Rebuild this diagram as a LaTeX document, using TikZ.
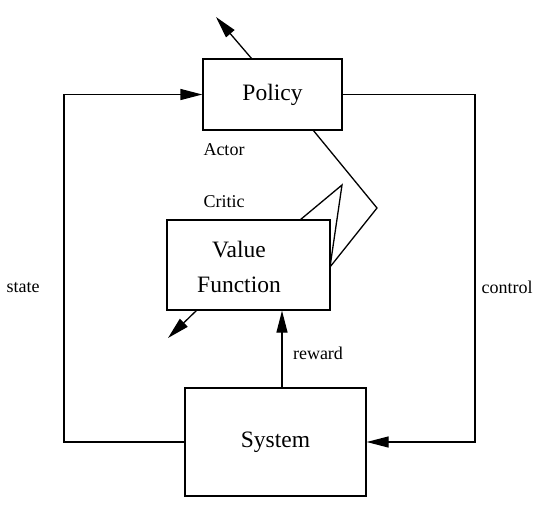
\documentclass[tikz,border=0pt]{standalone}
\usepackage{fontspec}
\setmainfont{Liberation Serif}
\usetikzlibrary{arrows.meta}
\begin{document}
\begin{tikzpicture}[x=1pt,y=-1pt,
  box/.style={draw, line width=1.3pt, inner sep=0pt},
  big/.style={font=\fontsize{23.5}{35}\selectfont, align=center},
  small/.style={font=\fontsize{18}{22}\selectfont},
  conn/.style={line width=1.3pt},
  arr/.style={line width=1.3pt, -{Triangle[length=22pt,width=11pt]}}]
\useasboundingbox (0,0) rectangle (544,507);
% boxes
\node[box, minimum width=139pt, minimum height=71pt, big] (policy) at (272.5,94.5) {Policy};
\node[box, minimum width=163pt, minimum height=90pt] (vf) at (248.5,265) {};
\node[big] (vftext) at (239,267) {Value\\Function};
\node[box, minimum width=181pt, minimum height=108pt, big] (system) at (275.5,442) {System};
% labels
\node[small] (actor) at (224,150) {Actor};
\node[small] (critic) at (224,202) {Critic};
\node[small] (state) at (23,288) {state};
\node[small] (control) at (507,287) {control};
\node[small] (reward) at (318,353) {reward};
% helper coordinates
\coordinate (rx) at (282,0);
\coordinate (lx) at (64,0);
\coordinate (cx) at (475,0);
\coordinate (ptop) at (252,59);
\coordinate (ptip) at (216,17);
\coordinate (vbot) at (197,310);
\coordinate (vtip) at (168,338);
\coordinate (z0) at (313,130);
\coordinate (z1) at (377,208);
\coordinate (z2) at (330,267);
\coordinate (z3) at (342,185);
\coordinate (z4) at (300,220);
% connectors
\draw[arr] (system.west) -- (system.west -| lx) |- (policy.west);
\draw[arr] (policy.east) -- (policy.east -| cx) |- (system.east);
\draw[arr] (system.north -| rx) -- (vf.south -| rx);
\draw[arr] (ptop) -- (ptip);
\draw[arr] (vbot) -- (vtip);
\draw[conn, line join=miter] (z0) -- (z1) -- (z2) -- (z3) -- (z4);
\end{tikzpicture}
\end{document}
